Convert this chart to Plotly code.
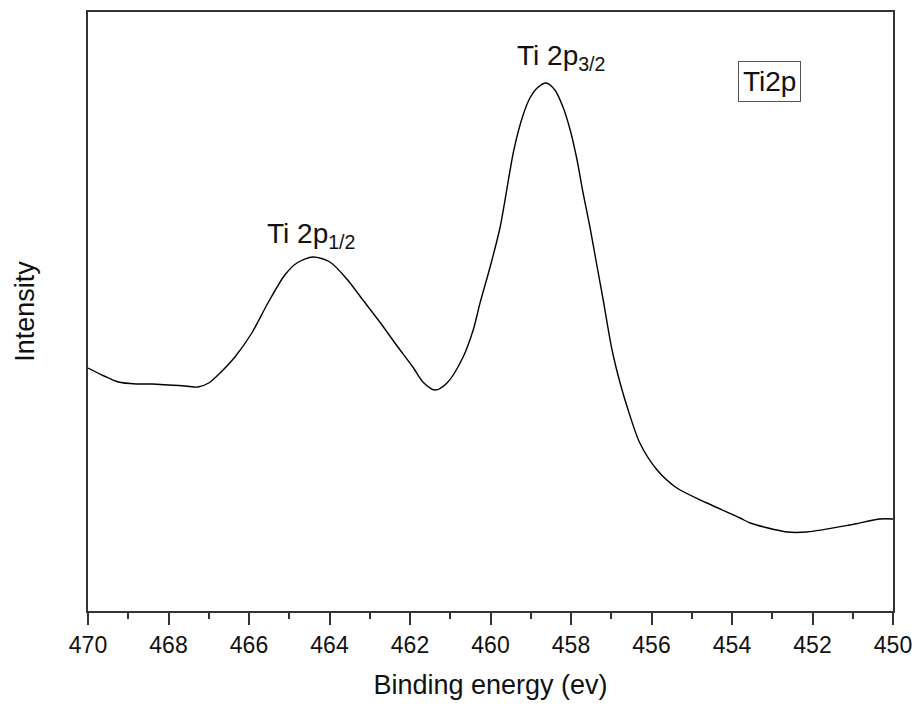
import plotly.graph_objects as go

binding_energy = [470.00, 469.60, 469.25, 468.80, 468.41, 467.59, 467.27, 467.00, 466.77, 466.35,
                  465.93, 465.53, 465.11, 464.81, 464.41, 463.99, 463.57, 463.17, 462.75, 462.32,
                  461.93, 461.68, 461.38, 461.08, 460.68, 460.43, 460.26, 460.01, 459.76, 459.42,
                  459.19, 459.02, 458.84, 458.62, 458.40, 458.20, 458.02, 457.85, 457.70, 457.53,
                  457.35, 457.20, 456.98, 456.78, 456.58, 456.29, 455.86, 455.37, 454.62, 453.80,
                  453.55, 452.63, 452.14, 451.07, 450.32, 450.00]
intensity = [243, 235, 229, 227, 227, 225, 224, 228, 236, 254,
             278, 308, 336, 348, 354, 349, 332, 311, 289, 265,
             244, 229, 221, 228, 254, 281, 308, 344, 384, 461,
             496, 513, 523, 528, 521, 504, 481, 451, 418, 384,
             344, 311, 261, 228, 201, 168, 141, 123, 108, 93,
             88, 79, 79, 86, 92, 92]

x_ticks = [470, 468, 466, 464, 462, 460, 458, 456, 454, 452, 450]

font_family = "Liberation Sans, Arial, sans-serif"

fig = go.Figure()
fig.add_trace(go.Scatter(
    x=binding_energy, y=intensity, mode="lines",
    line=dict(color="black", width=1.4, shape="spline", smoothing=0.8),
    showlegend=False,
))

fig.update_layout(
    width=916, height=704,
    margin=dict(l=88, r=23, t=12, b=93),
    paper_bgcolor="white", plot_bgcolor="white",
    font=dict(family=font_family, color="#111111", size=24),
    xaxis=dict(
        range=[470, 450], tickvals=x_ticks, ticktext=[str(t) for t in x_ticks],
        ticks="outside", ticklen=12, tickwidth=2, tickcolor="#333333",
        minor=dict(ticks="outside", ticklen=6, tickwidth=2, tickcolor="#333333", dtick=1),
        showline=True, linecolor="#333333", linewidth=2, mirror=True,
        showgrid=False, zeroline=False, automargin=False,
        tickfont=dict(size=23),
        title=dict(text="Binding energy (ev)", font=dict(size=27), standoff=19),
    ),
    yaxis=dict(
        range=[0, 599], showticklabels=False, ticks="",
        showline=True, linecolor="#333333", linewidth=2, mirror=True,
        showgrid=False, zeroline=False, automargin=False,
        title=dict(text="Intensity", font=dict(size=27), standoff=44),
    ),
)

fig.add_annotation(x=465.60, y=356, xref="x", yref="y", text="Ti 2p<sub>1/2</sub>",
                   showarrow=False, font=dict(size=28), xanchor="left", yanchor="bottom")
fig.add_annotation(x=459.39, y=534, xref="x", yref="y", text="Ti 2p<sub>3/2</sub>",
                   showarrow=False, font=dict(size=28), xanchor="left", yanchor="bottom")
fig.add_annotation(x=453.06, y=529.5, xref="x", yref="y", text="Ti2p",
                   showarrow=False, font=dict(size=28), xanchor="center", yanchor="middle",
                   bordercolor="#555555", borderwidth=1, borderpad=4, bgcolor="white")

fig.write_html("out.html")
